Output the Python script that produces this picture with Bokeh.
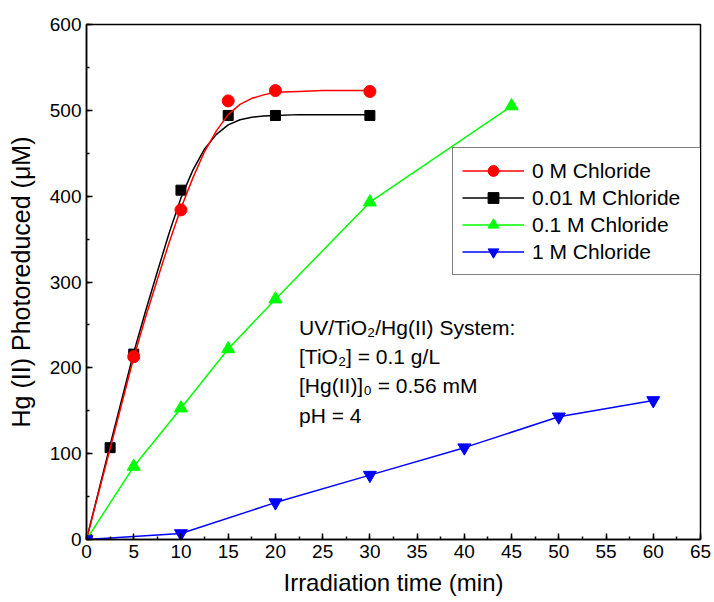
from bokeh.plotting import figure
from bokeh.models import Range1d, Legend, LegendItem, Label, SingleIntervalTicker
from bokeh.embed import file_html
from bokeh.resources import INLINE

FONT = "Liberation Sans"

# measured data points
t_red = [0, 5, 10, 15, 20, 30]
v_red = [0, 213, 384, 511, 523, 522]
t_black = [0, 2.5, 5, 10, 15, 20, 30]
v_black = [0, 107, 216, 407, 494, 494, 494]
t_green = [0, 5, 10, 15, 20, 30, 45]
v_green = [0, 85, 153, 222, 280, 393, 505]
t_blue = [0, 10, 20, 30, 40, 50, 60]
v_blue = [0, 7, 43, 75, 107, 143, 162]

# fitted curves
fit_t = [0, 2.5, 5, 6.25, 7.5, 8.75, 10, 11.25, 12.5, 13.75, 15, 16.25,
         17.5, 18.75, 20, 22.5, 25, 30]
fit_red = [0, 106, 212, 259, 303, 346, 386, 421, 452, 476, 495, 507,
           514, 518, 521, 522, 523, 523]
fit_black = [0, 110, 218, 266, 312, 357, 398, 430, 455, 472, 483, 489,
             492, 493.5, 494, 495, 495, 495]

labels = ["0 M Chloride", "0.01 M Chloride", "0.1 M Chloride", "1 M Chloride"]
notes = ["UV/TiO\u2082/Hg(II) System:", "[TiO\u2082] = 0.1 g/L",
         "[Hg(II)]\u2080 = 0.56 mM", "pH = 4"]

p = figure(frame_width=614, frame_height=515,
           x_range=Range1d(0, 65), y_range=Range1d(0, 600),
           output_backend="svg", toolbar_location=None,
           min_border_left=86, min_border_right=14,
           min_border_top=24, min_border_bottom=63)
p.xgrid.visible = False
p.ygrid.visible = False
p.outline_line_color = "black"
p.outline_line_width = 1.5
p.background_fill_color = "white"
p.border_fill_color = "white"

p.xaxis.ticker = SingleIntervalTicker(interval=5, num_minor_ticks=2)
p.yaxis.ticker = SingleIntervalTicker(interval=100, num_minor_ticks=2)
for ax in (p.xaxis[0], p.yaxis[0]):
    ax.axis_line_width = 1.5
    ax.axis_line_color = "black"
    ax.major_tick_in = 6
    ax.major_tick_out = 0
    ax.minor_tick_in = 3
    ax.minor_tick_out = 0
    ax.major_tick_line_width = 1.5
    ax.minor_tick_line_width = 1.5
    ax.major_tick_line_color = "black"
    ax.minor_tick_line_color = "black"
    ax.major_label_text_font = FONT
    ax.major_label_text_font_size = "19px"
    ax.major_label_text_color = "black"
    ax.axis_label_text_font = FONT
    ax.axis_label_text_font_style = "normal"
    ax.axis_label_text_color = "black"
    ax.major_label_standoff = 5

p.xaxis.axis_label = "Irradiation time (min)"
p.xaxis.axis_label_text_font_size = "24px"
p.xaxis.axis_label_standoff = 8
p.yaxis.axis_label = "Hg (II) Photoreduced (\u03bcM)"
p.yaxis.axis_label_text_font_size = "25px"
p.yaxis.axis_label_standoff = 12

lw = 1.5
l_black = p.line(fit_t, fit_black, line_color="black", line_width=lw)
m_black = p.scatter(t_black, v_black, marker="square", size=10,
                    fill_color="black", line_color="black")
l_red = p.line(fit_t, fit_red, line_color="#ff0000", line_width=lw)
m_red = p.scatter(t_red, v_red, marker="circle", size=12,
                  fill_color="#ff0000", line_color="#ff0000")
l_green = p.line(t_green, v_green, line_color="#00ff00", line_width=lw)
m_green = p.scatter(t_green, v_green, marker="triangle", size=13,
                    fill_color="#00ff00", line_color="#00ff00")
l_blue = p.line(t_blue, v_blue, line_color="#0000ff", line_width=lw)
m_blue = p.scatter(t_blue, v_blue, marker="inverted_triangle", size=13,
                   fill_color="#0000ff", line_color="#0000ff")

legend = Legend(items=[
    LegendItem(label=labels[0], renderers=[l_red, m_red]),
    LegendItem(label=labels[1], renderers=[l_black, m_black]),
    LegendItem(label=labels[2], renderers=[l_green, m_green]),
    LegendItem(label=labels[3], renderers=[l_blue, m_blue]),
], location=(366, 264))
legend.border_line_color = "black"
legend.border_line_width = 1.5
legend.background_fill_alpha = 1
legend.padding = 9
legend.spacing = 0
legend.margin = 0
legend.glyph_width = 62
legend.glyph_height = 27
legend.label_height = 27
legend.label_width = 160
legend.label_standoff = 8
legend.label_text_font = FONT
legend.label_text_font_size = "21px"
legend.label_text_color = "black"
p.add_layout(legend, "center")

note_x = 22.5
note_y = [247, 213, 179, 145]
for txt, yy in zip(notes, note_y):
    p.add_layout(Label(x=note_x, y=yy, text=txt, text_font=FONT,
                       text_font_size="21px", text_color="black",
                       text_baseline="alphabetic", text_align="left"))

open("out.html", "w").write(file_html(p, INLINE))
